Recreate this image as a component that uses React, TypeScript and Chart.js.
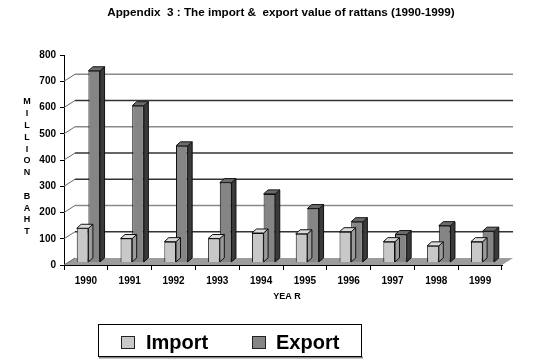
import React, { useEffect, useRef } from 'react';
import { Chart, registerables } from 'chart.js';

Chart.register(...registerables);

// ---- data ----
const YEARS = ['1990', '1991', '1992', '1993', '1994', '1995', '1996', '1997', '1998', '1999'];
const IMPORT_VALUES = [130, 91, 79, 91, 112, 109, 117, 79, 63, 79];
const EXPORT_VALUES = [730, 597, 444, 304, 261, 205, 155, 106, 140, 119];
const Y_MIN = 0;
const Y_MAX = 800;
const Y_STEP = 100;
const SERIES_LABELS = ['Import', 'Export'];
const TITLE = 'Appendix  3 : The import &  export value of rattans (1990-1999)';
const Y_TITLE_LETTERS = ['M', 'I', 'L', 'L', 'I', 'O', 'N', '', 'B', 'A', 'H', 'T'];
const X_TITLE = 'YEA R';

// ---- style ----
const FONT = "'Liberation Sans', Arial, Helvetica, sans-serif";
const FRONT = ['#c8c8c8', '#858585'];
const TOPC = ['#dcdcdc', '#6c6c6c'];
const SIDE = ['#9a9a9a', '#3a3a3a'];
const WALL_DX = 11;
const WALL_DY = -7;
const BAR_DX = 4.5;
const BAR_DY = -4;
const SHIFT_X = 2.5;
const SHIFT_Y = -2.6;
const GRID_COLORS: Record<number, string> = {
  100: '#333333', 200: '#8a8a8a', 300: '#333333', 400: '#333333',
  500: '#8a8a8a', 600: '#333333', 700: '#8a8a8a',
};

const fake3d = {
  id: 'fake3d',
  beforeDatasetsDraw(chart: any) {
    const { ctx, scales } = chart;
    const x = scales.x;
    const y = scales.y;
    const y0 = y.getPixelForValue(0);
    ctx.save();
    // floor
    ctx.fillStyle = '#9c9c9c';
    ctx.beginPath();
    ctx.moveTo(x.left, y0);
    ctx.lineTo(x.right, y0);
    ctx.lineTo(x.right + WALL_DX, y0 + WALL_DY);
    ctx.lineTo(x.left + WALL_DX, y0 + WALL_DY);
    ctx.closePath();
    ctx.fill();
    // wall grid
    y.ticks.forEach((t: any) => {
      const v = t.value;
      if (v >= Y_MAX) return;
      const py = y.getPixelForValue(v);
      ctx.strokeStyle = '#666';
      ctx.lineWidth = 1;
      ctx.beginPath();
      ctx.moveTo(x.left, py);
      ctx.lineTo(x.left + WALL_DX, py + WALL_DY);
      ctx.stroke();
      if (v > 0) {
        ctx.strokeStyle = GRID_COLORS[v] || '#666';
        ctx.lineWidth = 1.6;
        ctx.beginPath();
        ctx.moveTo(x.left + WALL_DX, py + WALL_DY);
        ctx.lineTo(x.right + WALL_DX, py + WALL_DY);
        ctx.stroke();
      }
    });
    ctx.restore();
  },
  beforeDatasetDraw(chart: any) {
    chart.ctx.save();
    chart.ctx.translate(SHIFT_X, SHIFT_Y);
  },
  afterDatasetDraw(chart: any, args: any) {
    const { ctx } = chart;
    const idx = args.index;
    args.meta.data.forEach((bar: any) => {
      const p = bar.getProps(['x', 'y', 'base', 'width'], true);
      const l = p.x - p.width / 2;
      const r = p.x + p.width / 2;
      const top = p.y;
      const base = p.base;
      ctx.lineWidth = 1;
      ctx.strokeStyle = '#111';
      // side face
      ctx.fillStyle = SIDE[idx];
      ctx.beginPath();
      ctx.moveTo(r, top);
      ctx.lineTo(r + BAR_DX, top + BAR_DY);
      ctx.lineTo(r + BAR_DX, base + BAR_DY);
      ctx.lineTo(r, base);
      ctx.closePath();
      ctx.fill();
      ctx.stroke();
      // top face
      ctx.fillStyle = TOPC[idx];
      ctx.beginPath();
      ctx.moveTo(l, top);
      ctx.lineTo(r, top);
      ctx.lineTo(r + BAR_DX, top + BAR_DY);
      ctx.lineTo(l + BAR_DX, top + BAR_DY);
      ctx.closePath();
      ctx.fill();
      ctx.stroke();
    });
    ctx.restore();
  },
  afterDraw(chart: any) {
    const { ctx } = chart;
    ctx.save();
    ctx.fillStyle = '#000';
    // title
    ctx.font = `bold 11.7px ${FONT}`;
    ctx.textAlign = 'center';
    ctx.textBaseline = 'middle';
    ctx.fillText(TITLE, 281, 13);
    // y title (stacked letters)
    ctx.font = `bold 9px ${FONT}`;
    Y_TITLE_LETTERS.forEach((ch, i) => {
      if (ch) ctx.fillText(ch, 27, 102 + i * 11.8);
    });
    // x title
    ctx.fillText(X_TITLE, 287, 297);
    // legend
    ctx.fillStyle = '#fff';
    ctx.fillRect(98.5, 324.5, 263, 32);
    ctx.strokeStyle = '#888';
    ctx.lineWidth = 2;
    ctx.beginPath();
    ctx.moveTo(99, 357.5);
    ctx.lineTo(363, 357.5);
    ctx.stroke();
    ctx.strokeStyle = '#000';
    ctx.lineWidth = 1;
    ctx.strokeRect(98.5, 324.5, 263, 32);
    const items = [
      { label: SERIES_LABELS[0], bx: 121, tx: 146, color: FRONT[0] },
      { label: SERIES_LABELS[1], bx: 252, tx: 276, color: FRONT[1] },
    ];
    items.forEach((it) => {
      ctx.fillStyle = it.color;
      ctx.fillRect(it.bx + 0.5, 336.5, 13, 12);
      ctx.strokeStyle = '#222';
      ctx.strokeRect(it.bx + 0.5, 336.5, 13, 12);
      ctx.fillStyle = '#000';
      ctx.font = `bold 20px ${FONT}`;
      ctx.textAlign = 'left';
      ctx.textBaseline = 'middle';
      ctx.fillText(it.label, it.tx, 343);
    });
    ctx.restore();
  },
};

export default function App() {
  const ref = useRef<HTMLCanvasElement | null>(null);
  useEffect(() => {
    if (!ref.current) return;
    const chart = new Chart(ref.current, {
      type: 'bar',
      data: {
        labels: YEARS,
        datasets: [
          {
            label: SERIES_LABELS[0],
            data: IMPORT_VALUES,
            backgroundColor: FRONT[0],
            borderColor: '#111',
            borderWidth: 1,
            categoryPercentage: 0.533,
            barPercentage: 1,
          },
          {
            label: SERIES_LABELS[1],
            data: EXPORT_VALUES,
            backgroundColor: FRONT[1],
            borderColor: '#111',
            borderWidth: 1,
            categoryPercentage: 0.533,
            barPercentage: 1,
          },
        ],
      },
      options: {
        responsive: false,
        animation: false,
        devicePixelRatio: 1,
        layout: { padding: { top: 55, right: 47, bottom: 0, left: 0 } },
        plugins: {
          legend: { display: false },
          title: { display: false },
          tooltip: { enabled: false },
        },
        scales: {
          x: {
            grid: { display: true, drawOnChartArea: false, drawTicks: true, tickLength: 5, color: '#000' },
            border: { display: true, color: '#000', width: 1 },
            ticks: {
              color: '#000',
              font: { family: FONT, size: 10, weight: 'bold' },
              padding: 5,
              maxRotation: 0,
              autoSkip: false,
            },
            afterFit: (s: any) => { s.height = 95; },
          },
          y: {
            min: Y_MIN,
            max: Y_MAX,
            grid: { display: true, drawOnChartArea: false, drawTicks: true, tickLength: 4, color: '#000' },
            border: { display: true, color: '#000', width: 1 },
            ticks: {
              stepSize: Y_STEP,
              color: '#000',
              font: { family: FONT, size: 10, weight: 'bold' },
              padding: 4,
            },
            afterFit: (s: any) => { s.width = 64; },
          },
        },
      },
      plugins: [fake3d],
    } as any);
    return () => chart.destroy();
  }, []);
  return (
    <div style={{ position: 'absolute', left: 0, top: 0, width: 549, height: 360, background: '#fff' }}>
      <canvas ref={ref} width={549} height={360} />
    </div>
  );
}
